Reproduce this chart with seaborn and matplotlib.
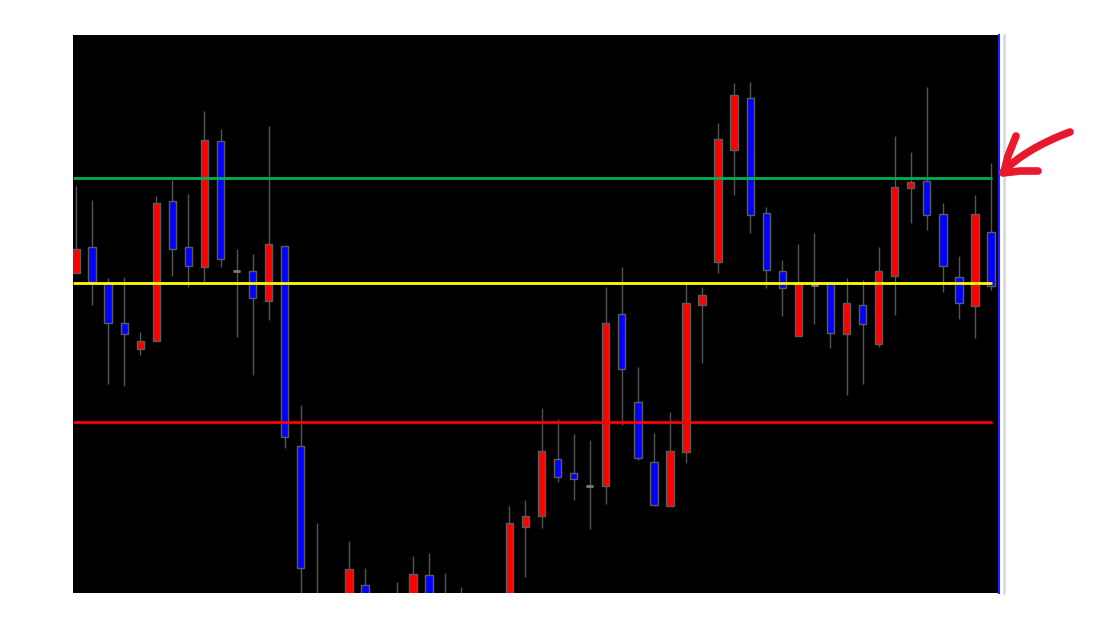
import numpy as np
import pandas as pd
import matplotlib
matplotlib.use("Agg")
import matplotlib.pyplot as plt
from matplotlib.lines import Line2D
from matplotlib.path import Path
from matplotlib.patches import PathPatch
import seaborn as sns

# ---- data (price units) ----
opens  = [320, 346, 310, 270, 244, 252, 392, 346, 326, 452, 322, 322, 292, 347, 147,
          -5, -70, -20, 8, -25, -45, -10, 18, -10, -40, -30, -20, -5, 66, 77,
          134, 120, 107, 107, 279, 191, 131, 87, 141, 288, 331, 443, 495, 380, 322,
          257, 308, 310, 259, 288, 249, 317, 405, 412, 379, 316, 287, 361]
highs  = [407, 393, 315, 316, 261, 397, 413, 399, 482, 464, 344, 339, 467, 347, 188,
          70, -20, 52, 25, -5, 11, 37, 40, 20, 6, -2, -1, 87, 93, 185,
          174, 159, 153, 306, 326, 226, 160, 181, 310, 306, 470, 510, 511, 386, 333,
          349, 360, 311, 315, 313, 346, 457, 441, 506, 390, 337, 398, 430]
lows   = [320, 288, 209, 207, 238, 252, 317, 306, 311, 326, 256, 218, 273, 145, -17,
          -60, -80, -35, -45, -65, -55, -25, -30, -50, -55, -40, -30, -15, 16, 65,
          111, 93, 64, 89, 168, 133, 87, 87, 130, 230, 320, 398, 360, 305, 277,
          257, 269, 245, 198, 209, 246, 278, 370, 363, 301, 274, 255, 303]
closes = [344, 311, 270, 259, 252, 390, 344, 327, 453, 334, 322, 295, 349, 156, 25,
          -40, -35, 24, -30, -55, -15, 19, -15, -35, -12, -5, -4, 70, 77, 142,
          116, 114, 107, 270, 224, 135, 88, 142, 290, 298, 454, 498, 378, 323, 305,
          310, 308, 260, 290, 269, 322, 406, 411, 378, 327, 290, 379, 307]
level_names  = ["resistance", "pivot", "support"]
level_values = [415, 310, 171]
level_colors = ["#00B050", "#FFFF00", "#FF0000"]

df = pd.DataFrame({"open": opens, "high": highs, "low": lows, "close": closes})
df["idx"] = np.arange(len(df))
df["color"] = np.where(df["close"] > df["open"], "#FF0000",
                       np.where(df["close"] < df["open"], "#0000FF", "#7a7a7a"))

sns.set_theme(style="white")
plt.rcParams['font.family'] = ['DejaVu Sans']

W, H = 1097, 629
fig = plt.figure(figsize=(W / 100, H / 100), dpi=100, facecolor="white")
ax = fig.add_axes([73 / W, (H - 593) / H, 926 / W, 558 / H])
ax.set_facecolor("black")

# wicks
ax.vlines(df["idx"], df["low"], df["high"], color="#555555", linewidth=1.0, zorder=1)
# bodies
bottoms = np.minimum(df["open"], df["close"])
heights = np.abs(df["close"] - df["open"])
ax.bar(df["idx"], heights, bottom=bottoms, width=0.46, color=df["color"],
       edgecolor="#5c5c5c", linewidth=1.0, zorder=2)
# dojis
doji = df[df["close"] == df["open"]]
ax.hlines(doji["open"], doji["idx"] - 0.22, doji["idx"] + 0.22, color="#7a7a7a",
          linewidth=2.0, zorder=2)

# horizontal levels
for v, c in zip(level_values, level_colors):
    ax.hlines(v, -0.2, len(df) - 1 + 0.07, color=c, linewidth=2.0, zorder=3)

ax.set_xlim(-0.19, 57.5)
ax.set_ylim(0, 558)
ax.set_xticks([])
ax.set_yticks([])
for s in ["top", "left", "bottom"]:
    ax.spines[s].set_visible(False)
ax.spines["right"].set_color("#2020ff")
ax.spines["right"].set_linewidth(1.5)

# light gray separator
fig.add_artist(Line2D([1004 / W, 1004 / W], [(H - 593) / H, (H - 35) / H],
                      transform=fig.transFigure, color="#d9d9d9", linewidth=2))

# hand-drawn arrow
def fp(x, y):
    return (x / W, (H - y) / H)

verts = [fp(1070, 132), fp(1040, 143), fp(1016, 158), fp(1003, 172)]
path = Path(verts, [Path.MOVETO, Path.CURVE4, Path.CURVE4, Path.CURVE4])
fig.add_artist(PathPatch(path, transform=fig.transFigure, fill=False,
                         edgecolor="#E8192C", linewidth=5.5, capstyle="round"))
for seg in ([fp(1016, 136), fp(1008, 156), fp(1004, 172)],
            [fp(1003, 173), fp(1020, 171), fp(1038, 171)]):
    xs, ys = zip(*seg)
    fig.add_artist(Line2D(xs, ys, transform=fig.transFigure, color="#E8192C",
                          linewidth=5.5, solid_capstyle="round"))

fig.savefig("out.png", dpi=100, facecolor="white")
